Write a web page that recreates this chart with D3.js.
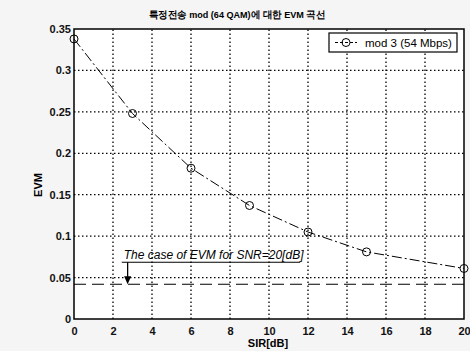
<!DOCTYPE html>
<html>
<head>
<meta charset="utf-8">
<script src="https://cdn.jsdelivr.net/npm/d3@7"></script>
<style>
  body { margin: 0; background: #fff; }
  text { font-family: "Liberation Sans", Arial, sans-serif; }
</style>
</head>
<body>
<script>
// data
var sirValues = [0, 3, 6, 9, 12, 15, 20];
var evmValues = [0.338, 0.248, 0.182, 0.137, 0.105, 0.081, 0.061];
var xTicks = [0, 2, 4, 6, 8, 10, 12, 14, 16, 18, 20];
var yTicks = [0, 0.05, 0.1, 0.15, 0.2, 0.25, 0.3, 0.35];
var snrLimit = [0.042];
var seriesName = ["mod 3 (54 Mbps)"];

var width = 470, height = 351;
var margin = { left: 74, right: 6, top: 29, bottom: 32 };

var svg = d3.select("body").append("svg")
  .attr("width", width).attr("height", height);

svg.append("rect").attr("width", width).attr("height", height).attr("fill", "#f5f5f5");

var x = d3.scaleLinear().domain([0, 20]).range([margin.left, width - margin.right]);
var y = d3.scaleLinear().domain([0, 0.35]).range([height - margin.bottom, margin.top]);

// plot area
svg.append("rect")
  .attr("x", x(0)).attr("y", y(0.35))
  .attr("width", x(20) - x(0)).attr("height", y(0) - y(0.35))
  .attr("fill", "#fff");

// grid
var grid = svg.append("g").attr("stroke", "#000").attr("stroke-width", 1.3).attr("stroke-dasharray", "1.5,2.5");
grid.selectAll(".gx").data(xTicks.slice(1, -1)).enter().append("line")
  .attr("x1", d => x(d)).attr("x2", d => x(d))
  .attr("y1", y(0)).attr("y2", y(0.35));
grid.selectAll(".gy").data(yTicks.slice(1, -1)).enter().append("line")
  .attr("y1", d => y(d)).attr("y2", d => y(d))
  .attr("x1", x(0)).attr("x2", x(20));

// axes
var xAxis = svg.append("g").attr("transform", "translate(0," + y(0) + ")")
  .call(d3.axisBottom(x).tickValues(xTicks).tickSize(0).tickPadding(8).tickFormat(d3.format("d")));
var yAxis = svg.append("g").attr("transform", "translate(" + x(0) + ",0)")
  .call(d3.axisLeft(y).tickValues(yTicks).tickSize(0).tickPadding(3).tickFormat(d => d === 0 ? "0" : String(+d.toFixed(2))));
[xAxis, yAxis].forEach(function (a) {
  a.select(".domain").remove();
  a.selectAll("text").attr("font-size", 11).attr("font-weight", "bold").attr("fill", "#111")
    .attr("font-family", "Arial, 'Liberation Sans', sans-serif");
});

// frame
svg.append("rect")
  .attr("x", x(0)).attr("y", y(0.35))
  .attr("width", x(20) - x(0)).attr("height", y(0) - y(0.35))
  .attr("fill", "none").attr("stroke", "#000").attr("stroke-width", 1.5);

// threshold line
svg.selectAll(".thr").data(snrLimit).enter().append("line")
  .attr("x1", x(0)).attr("x2", x(20))
  .attr("y1", d => y(d)).attr("y2", d => y(d))
  .attr("stroke", "#000").attr("stroke-width", 1.1).attr("stroke-dasharray", "12,6");

// series
var pts = sirValues.map((s, i) => [s, evmValues[i]]);
svg.append("path")
  .datum(pts)
  .attr("d", d3.line().x(d => x(d[0])).y(d => y(d[1])))
  .attr("fill", "none").attr("stroke", "#000").attr("stroke-width", 1)
  .attr("stroke-dasharray", "10,3,2,3");
svg.selectAll(".mk").data(pts).enter().append("circle")
  .attr("cx", d => x(d[0])).attr("cy", d => y(d[1])).attr("r", 4)
  .attr("fill", "none").attr("stroke", "#000").attr("stroke-width", 1);

// annotation
var ax = x(2.75);
svg.append("text")
  .attr("x", x(2.55)).attr("y", y(0.0725))
  .attr("font-size", 12).attr("font-style", "italic").attr("fill", "#000")
  .text("The case of EVM for SNR=20[dB]");
svg.append("line")
  .attr("x1", x(2.45)).attr("x2", x(11.6)).attr("y1", y(0.0685)).attr("y2", y(0.0685))
  .attr("stroke", "#000").attr("stroke-width", 1.2);
svg.append("line")
  .attr("x1", ax).attr("x2", ax).attr("y1", y(0.0685)).attr("y2", y(snrLimit[0]) - 4)
  .attr("stroke", "#000").attr("stroke-width", 1.3);
svg.append("path")
  .attr("d", "M" + (ax - 3.5) + "," + (y(snrLimit[0]) - 8) + "L" + (ax + 3.5) + "," + (y(snrLimit[0]) - 8) + "L" + ax + "," + y(snrLimit[0]) + "Z")
  .attr("fill", "#000");

// legend
var lg = svg.append("g").attr("transform", "translate(" + (x(20) - 135) + "," + (y(0.35) + 4) + ")");
lg.append("rect").attr("width", 128).attr("height", 19).attr("fill", "#fff")
  .attr("stroke", "#000").attr("stroke-width", 1.2);
lg.append("line").attr("x1", 6).attr("x2", 28).attr("y1", 9.5).attr("y2", 9.5)
  .attr("stroke", "#000").attr("stroke-dasharray", "3,2");
lg.append("circle").attr("cx", 17).attr("cy", 9.5).attr("r", 4).attr("fill", "none").attr("stroke", "#000");
lg.append("text").attr("x", 36).attr("y", 14).attr("font-size", 11.5).attr("fill", "#000")
  .text(seriesName[0]);

// labels
svg.append("text").attr("x", 237).attr("y", 18).attr("text-anchor", "middle")
  .attr("font-size", 9.5).attr("font-weight", "bold")
  .attr("font-family", "'Noto Sans CJK KR', sans-serif")
  .attr("textLength", 177).attr("lengthAdjust", "spacingAndGlyphs")
  .text("특정전송 mod (64 QAM)에 대한 EVM 곡선");
svg.append("text").attr("x", 268).attr("y", 347).attr("text-anchor", "middle")
  .attr("font-size", 11).attr("font-weight", "bold")
  .text("SIR[dB]");
svg.append("text").attr("transform", "translate(42,185) rotate(-90)")
  .attr("text-anchor", "middle").attr("font-size", 11).attr("font-weight", "bold")
  .text("EVM");
</script>
</body>
</html>
